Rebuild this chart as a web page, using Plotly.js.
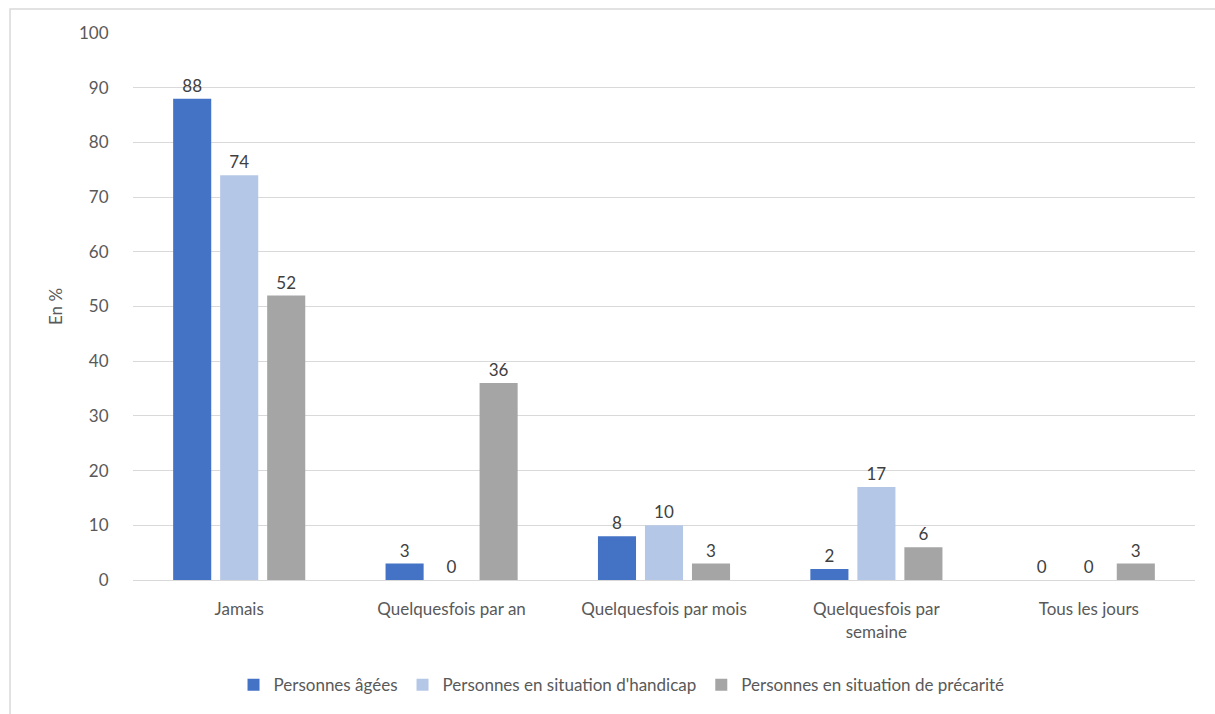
<!DOCTYPE html>
<html>
<head>
<meta charset="utf-8">
<script src="https://cdn.plot.ly/plotly-3.0.1.min.js"></script>
<style>html,body{margin:0;padding:0;background:#fff;}#chart{width:1215px;height:714px;}</style>
</head>
<body>
<div id="chart"></div>
<script>
const categories = ["Jamais", "Quelquesfois par an", "Quelquesfois par mois", "Quelquesfois par<br>semaine", "Tous les jours"];
const seriesNames = ["Personnes âgées", "Personnes en situation d'handicap", "Personnes en situation de précarité"];
const agees = [88, 3, 8, 2, 0];
const handicap = [74, 0, 10, 17, 0];
const precarite = [52, 36, 3, 6, 3];
const colors = ["#4472C4", "#B4C7E7", "#A5A5A5"];
const yTicks = [0, 10, 20, 30, 40, 50, 60, 70, 80, 90, 100];

const font = "Lato, Open Sans, sans-serif";
const mk = (name, vals, color) => ({
  type: "bar", name: name, x: categories, y: vals,
  marker: {color: color},
  text: vals.map(String), textposition: "outside", cliponaxis: false,
  textfont: {family: font, size: 17, color: "#404040"},
  hoverinfo: "x+y"
});
const data = [mk(seriesNames[0], agees, colors[0]), mk(seriesNames[1], handicap, colors[1]), mk(seriesNames[2], precarite, colors[2])];

const layout = {
  width: 1215, height: 714,
  margin: {l: 133, r: 20, t: 33, b: 133},
  paper_bgcolor: "#fff", plot_bgcolor: "#fff",
  font: {family: font, size: 17, color: "#595959"},
  barmode: "group", bargap: 0.336, bargroupgap: 0.19,
  showlegend: true,
  legend: {orientation: "h", x: 0.46, xanchor: "center", y: -0.19, yanchor: "middle",
           font: {family: font, size: 17, color: "#595959"}, itemwidth: 30, tracegroupgap: 0},
  xaxis: {type: "category", showgrid: false, zeroline: false, showline: false,
          ticks: "outside", ticklen: 14, tickcolor: "rgba(0,0,0,0)",
          tickfont: {family: font, size: 17, color: "#595959"}},
  yaxis: {range: [0, 100], tickvals: yTicks, ticktext: yTicks.map(String),
          showgrid: true, gridcolor: "#d9d9d9", gridwidth: 1,
          zeroline: true, zerolinecolor: "#d9d9d9", zerolinewidth: 1, showline: false,
          ticks: "outside", ticklen: 20, tickcolor: "rgba(0,0,0,0)",
          tickfont: {family: font, size: 17, color: "#595959"},
          title: {text: "En %", font: {family: font, size: 17, color: "#595959"}, standoff: 12}},
  shapes: [{type: "rect", xref: "paper", yref: "paper", x0: -0.1158, x1: 1.05, y0: -0.4, y1: 1.0438,
            line: {color: "#d9d9d9", width: 1.5}, fillcolor: "rgba(0,0,0,0)", layer: "below"}]
};
Plotly.newPlot("chart", data, layout, {displayModeBar: false, staticPlot: true});
</script>
</body>
</html>
